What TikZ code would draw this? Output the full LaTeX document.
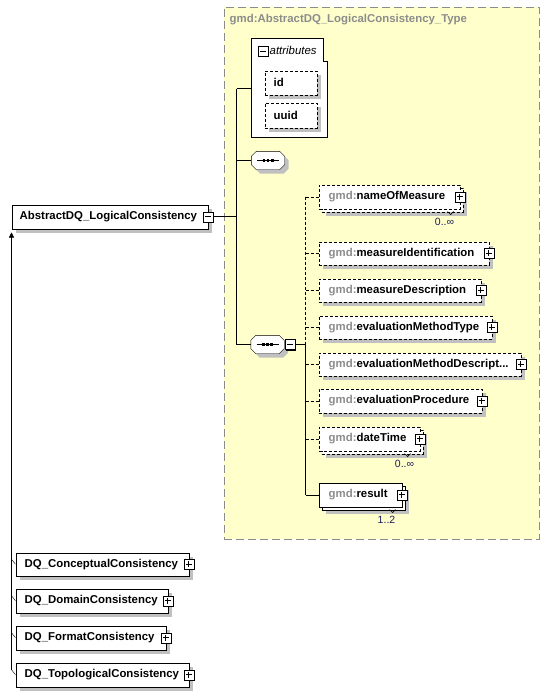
\documentclass[tikz,border=0pt]{standalone}
\usepackage{fontspec}
\setmainfont{Liberation Sans}
\usetikzlibrary{shadows,arrows.meta}
\definecolor{panelfill}{HTML}{FFFFCC}
\definecolor{panelborder}{HTML}{8C8C8C}
\definecolor{shadowgray}{HTML}{C0C0C0}
\definecolor{prefixgray}{HTML}{8C8C8C}
\definecolor{multcol}{HTML}{1C1C5C}
\pgfdeclarelayer{panellayer}
\pgfsetlayers{panellayer,main}
\newcommand{\gmdpre}{\textcolor{prefixgray}{gmd:}}
\newcommand{\seqoctpath}[3]{%
  ([xshift=5pt+#2,yshift=#3]#1.north west) -- ([xshift=-5pt+#2,yshift=#3]#1.north east) --
  ([xshift=#2,yshift=-5pt+#3]#1.north east) -- ([xshift=#2,yshift=5pt+#3]#1.south east) --
  ([xshift=-5pt+#2,yshift=#3]#1.south east) -- ([xshift=5pt+#2,yshift=#3]#1.south west) --
  ([xshift=#2,yshift=5pt+#3]#1.south west) -- ([xshift=#2,yshift=-5pt+#3]#1.north west) -- cycle}
\tikzset{
  shd/.style={drop shadow={shadow xshift=4pt,shadow yshift=-4pt,fill=shadowgray,opacity=1}},
  shdmulti/.style={drop shadow={shadow xshift=7pt,shadow yshift=-7pt,fill=shadowgray,opacity=1},
                   general shadow={shadow xshift=3pt,shadow yshift=-3pt,fill=white,draw=black,#1}},
  shdmulti/.default={solid},
  box/.style={draw=black, fill=white, inner sep=0pt, anchor=north west, minimum height=24pt},
  optdash/.style={dash pattern=on 3pt off 2pt},
  lbl/.style={anchor=west, inner sep=0pt, font=\fontsize{11.4pt}{13pt}\selectfont\bfseries},
  multtext/.style={inner sep=0pt, text=multcol, font=\fontsize{10.5pt}{12pt}\selectfont},
  pmbox/.style={draw, fill=white, minimum size=10pt, inner sep=0pt,
                drop shadow={shadow xshift=1pt,shadow yshift=-1pt,fill=black,opacity=1}},
  pbox/.style={pmbox, path picture={\draw[line width=0.9pt]
      ([xshift=2pt]path picture bounding box.west) -- ([xshift=-2pt]path picture bounding box.east)
      ([yshift=-2pt]path picture bounding box.north) -- ([yshift=2pt]path picture bounding box.south);}},
  mbox/.style={pmbox, path picture={\draw[line width=0.9pt]
      ([xshift=2pt]path picture bounding box.west) -- ([xshift=-2pt]path picture bounding box.east);}},
  seqbox/.style={rectangle, minimum width=33pt, minimum height=18pt, inner sep=0pt},
  dashline/.style={dash pattern=on 3pt off 2pt},
  solidline/.style={solid, draw=black, line width=1pt},
  notch/.style={line width=0.7pt},
}
\begin{document}
\begin{tikzpicture}[x=1pt,y=-1pt,line width=0.9pt]
\useasboundingbox (0,0) rectangle (549,696);
\begin{scope}[shift={(0.5,0.5)}]
\begin{pgfonlayer}{panellayer}
\node[draw=panelborder, fill=panelfill, dash pattern=on 8pt off 4pt, line width=1pt,
      minimum width=315pt, minimum height=532pt, anchor=north west, inner sep=0pt] (panel) at (223,6) {};
\end{pgfonlayer}
\node[lbl, text=prefixgray] (title) at (229,19) {gmd:AbstractDQ\_LogicalConsistency\_Type};

% attributes group
\draw[fill=white] (251,38) -- (323,38) -- (323,61) -- (327,61) -- (327,137) -- (251,137) -- cycle;
\coordinate (att) at (251,88);
\node[mbox] (attm) at (262.5,50.5) {};
\node[anchor=west, inner sep=0pt, font=\fontsize{11.4pt}{13pt}\selectfont\itshape] (attt) at (269,50) {attributes};
\node[box, optdash, shd, minimum width=52pt] (id) at (264,70) {};
\node[lbl] (idt) at ([xshift=9pt]id.west) {id};
\node[box, optdash, shd, minimum width=52pt, minimum height=25pt] (uuid) at (264,102) {};
\node[lbl] (uuidt) at ([xshift=9pt]uuid.west) {uuid};

% sequences
\node[seqbox] (s1) at (267.5,160) {};
\node[seqbox] (s2) at (267,344) {};
\foreach \s in {s1,s2}{
  \fill[shadowgray] \seqoctpath{\s}{4pt}{-4pt};
  \draw[fill=white] \seqoctpath{\s}{0pt}{0pt};
  \draw ([xshift=-11pt]\s.center) -- ([xshift=11pt]\s.center);
  \foreach \dx in {-4.2,0,4.2}{
    \fill ([xshift=\dx pt]\s.center) +(-1.3,-1.3) rectangle +(1.3,1.3);
  }
}
\node[mbox] (s2m) at (289.5,344) {};

% base type
\node[box, shd, minimum width=196pt] (abs) at (11,204) {};
\node[lbl] (abst) at ([xshift=8pt]abs.west) {AbstractDQ\_LogicalConsistency};
\node[mbox] (absm) at (abs.east) {};

% elements
\node[box, optdash, shdmulti={optdash}, minimum width=141pt] (nom) at (318,184) {};
\node[lbl] (nomt) at ([xshift=10pt]nom.west) {\gmdpre nameOfMeasure};
\node[pbox] (nomp) at (nom.east) {};
\draw[notch] (447,211) -- (450,214) -- (453,211);
\node[multtext] (nomx) at (444,221) {0..∞};

\node[box, optdash, shd, minimum width=170pt, minimum height=23pt] (mid) at (318,241) {};
\node[lbl] (midt) at ([xshift=10pt]mid.west) {\gmdpre measureIdentification};
\node[pbox] (midp) at (mid.east) {};

\node[box, optdash, shd, minimum width=162pt, minimum height=23pt] (mde) at (318,278) {};
\node[lbl] (mdet) at ([xshift=10pt]mde.west) {\gmdpre measureDescription};
\node[pbox] (mdep) at (mde.east) {};

\node[box, optdash, shd, minimum width=173pt, minimum height=23pt] (emt) at (318,315) {};
\node[lbl] (emtt) at ([xshift=10pt]emt.west) {\gmdpre evaluationMethodType};
\node[pbox] (emtp) at (emt.east) {};

\node[box, optdash, shd, minimum width=202pt, minimum height=23pt] (emd) at (318,352) {};
\node[lbl] (emdt) at ([xshift=10pt]emd.west) {\gmdpre evaluationMethodDescript...};
\node[pbox] (emdp) at (emd.east) {};

\node[box, optdash, shd, minimum width=163pt] (epr) at (318,388) {};
\node[lbl] (eprt) at ([xshift=10pt]epr.west) {\gmdpre evaluationProcedure};
\node[pbox] (eprp) at (epr.east) {};

\node[box, optdash, shdmulti={optdash}, minimum width=101pt] (dtm) at (318,426) {};
\node[lbl] (dtmt) at ([xshift=10pt]dtm.west) {\gmdpre dateTime};
\node[pbox] (dtmp) at (dtm.east) {};
\draw[notch] (404,453) -- (407,456) -- (410,453);
\node[multtext] (dtmx) at (404,463) {0..∞};

\node[box, shdmulti, minimum width=83pt] (res) at (318,482) {};
\node[lbl] (rest) at ([xshift=10pt]res.west) {\gmdpre result};
\node[pbox] (resp) at (res.east) {};
\draw[notch] (389,509) -- (392,512) -- (395,509);
\node[multtext] (resx) at (386,519) {1..2};

% derived types
\node[box, shd, minimum width=173pt, minimum height=23pt] (dcc) at (15,552) {};
\node[lbl] (dcct) at ([xshift=9pt]dcc.west) {DQ\_ConceptualConsistency};
\node[pbox] (dccp) at (dcc.east) {};
\node[box, shd, minimum width=152pt] (ddc) at (15,588) {};
\node[lbl] (ddct) at ([xshift=9pt]ddc.west) {DQ\_DomainConsistency};
\node[pbox] (ddcp) at (ddc.east) {};
\node[box, shd, minimum width=150pt] (dfc) at (15,625) {};
\node[lbl] (dfct) at ([xshift=9pt]dfc.west) {DQ\_FormatConsistency};
\node[pbox] (dfcp) at (dfc.east) {};
\node[box, shd, minimum width=173pt] (dtc) at (15,662) {};
\node[lbl] (dtct) at ([xshift=9pt]dtc.west) {DQ\_TopologicalConsistency};
\node[pbox] (dtcp) at (dtc.east) {};

% connectors: main tree
\coordinate (j1) at (236,216);
\draw[solidline] (absm.east) -- (absm.east -| j1);
\draw (att -| j1) -- (s2.west -| j1);
\draw (att -| j1) -- (att);
\draw (s1.west -| j1) -- (s1.west);
\draw (s2.west -| j1) -- (s2.west);

% sequence children
\coordinate (j2) at (305,344);
\draw (s2m.east) -- (j2);
\draw[dashline] (nom.west -| j2) -- (j2);
\draw (j2) -- (res.west -| j2);
\foreach \e in {nom,mid,mde,emt,emd,epr,dtm}{
  \draw[dashline] (\e.west -| j2) -- (\e.west);
}
\draw (res.west -| j2) -- (res.west);

% inheritance
\coordinate (ih) at (11,232);
\draw[-{Triangle[width=5pt,length=5pt]}] ([yshift=5pt]dtc.west -| ih) -- (ih);
\foreach \d in {dcc,ddc,dfc,dtc}{
  \draw ([yshift=5pt]\d.west -| ih) -- (\d.west);
}
\end{scope}
\end{tikzpicture}
\end{document}
